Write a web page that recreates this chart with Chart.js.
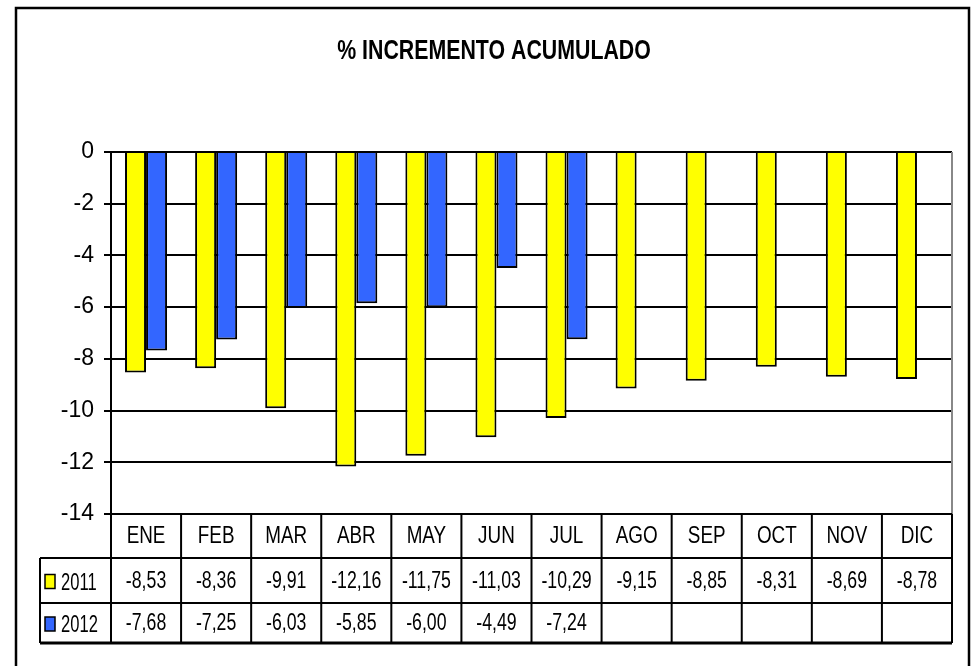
<!DOCTYPE html>
<html>
<head>
<meta charset="utf-8">
<script src="https://cdn.jsdelivr.net/npm/chart.js@4.4.1/dist/chart.umd.min.js"></script>
<style>
  html, body { margin: 0; padding: 0; background: #fff; }
</style>
</head>
<body>
<canvas id="chart" width="975" height="666"></canvas>
<script>
const months = ["ENE", "FEB", "MAR", "ABR", "MAY", "JUN", "JUL", "AGO", "SEP", "OCT", "NOV", "DIC"];
const seriesNames = ["2011", "2012"];
const values2011 = [-8.53, -8.36, -9.91, -12.16, -11.75, -11.03, -10.29, -9.15, -8.85, -8.31, -8.69, -8.78];
const values2012 = [-7.68, -7.25, -6.03, -5.85, -6.00, -4.49, -7.24, null, null, null, null, null];
const titleText = "% INCREMENTO ACUMULADO";

const colors = ["#FFFF00", "#3366FF"];
const allValues = [values2011, values2012];

function narrowText(ctx, text, x, y, sx) {
  ctx.save();
  ctx.translate(x, y);
  ctx.scale(sx, 1);
  ctx.fillText(text, 0, 0);
  ctx.restore();
}

function fmt(v) {
  if (v === null) return "";
  return v.toFixed(2).replace(".", ",");
}

// frame, title and the data table under the plot
const tablePlugin = {
  id: "tablePlugin",
  beforeDraw(chart) {
    const ctx = chart.ctx;
    ctx.save();
    ctx.fillStyle = "#fff";
    ctx.fillRect(0, 0, chart.width, chart.height);
    ctx.strokeStyle = "#000";
    ctx.lineWidth = 2.5;
    ctx.strokeRect(16, 8, 953, 700);
    ctx.restore();
  },
  afterDraw(chart) {
    const ctx = chart.ctx;
    const area = chart.chartArea;
    const colW = (area.right - area.left) / months.length;
    const rows = [area.bottom, area.bottom + 44, area.bottom + 89, area.bottom + 129];
    const legendLeft = 40;

    ctx.save();
    // title
    ctx.fillStyle = "#000";
    ctx.font = "bold 27px 'Liberation Sans', Arial, sans-serif";
    ctx.textAlign = "center";
    ctx.textBaseline = "middle";
    narrowText(ctx, titleText, 494, 52, 0.79);

    // right border of plot area
    ctx.strokeStyle = "#888";
    ctx.lineWidth = 2;
    ctx.beginPath();
    ctx.moveTo(area.right, area.top);
    ctx.lineTo(area.right, area.bottom);
    ctx.stroke();

    // table grid
    ctx.strokeStyle = "#000";
    ctx.lineWidth = 2;
    ctx.beginPath();
    ctx.moveTo(area.left, rows[0]);
    ctx.lineTo(area.right, rows[0]);
    for (let r = 1; r < rows.length; r++) {
      ctx.moveTo(legendLeft, rows[r]);
      ctx.lineTo(area.right, rows[r]);
    }
    for (let i = 0; i <= months.length; i++) {
      const x = area.left + i * colW;
      ctx.moveTo(x, rows[0]);
      ctx.lineTo(x, rows[3]);
    }
    ctx.moveTo(legendLeft, rows[1]);
    ctx.lineTo(legendLeft, rows[3]);
    ctx.stroke();

    ctx.lineWidth = 3;
    ctx.beginPath();
    ctx.moveTo(legendLeft, rows[3]);
    ctx.lineTo(area.right, rows[3]);
    ctx.stroke();

    // header and values
    ctx.fillStyle = "#000";
    ctx.font = "23px 'Liberation Sans', Arial, sans-serif";
    ctx.textAlign = "center";
    ctx.textBaseline = "middle";
    months.forEach((m, i) => {
      const cx = area.left + (i + 0.5) * colW;
      narrowText(ctx, m, cx, (rows[0] + rows[1]) / 2 + 1, 0.82);
      allValues.forEach((vals, s) => {
        narrowText(ctx, fmt(vals[i]), cx, (rows[s + 1] + rows[s + 2]) / 2 + 1, 0.77);
      });
    });

    // legend cells
    seriesNames.forEach((name, s) => {
      const cy = (rows[s + 1] + rows[s + 2]) / 2;
      ctx.fillStyle = colors[s];
      ctx.fillRect(45, cy - 6, 10, 14);
      ctx.strokeStyle = "#000";
      ctx.lineWidth = 1.5;
      ctx.strokeRect(45, cy - 6, 10, 14);
      ctx.fillStyle = "#000";
      ctx.textAlign = "left";
      narrowText(ctx, name, 61, cy + 3, 0.72);
    });
    ctx.restore();
  }
};

new Chart(document.getElementById("chart"), {
  type: "bar",
  data: {
    labels: months,
    datasets: seriesNames.map((name, s) => ({
      label: name,
      data: allValues[s],
      backgroundColor: colors[s],
      borderColor: "#000",
      borderWidth: 2,
      categoryPercentage: 0.6,
      barPercentage: 1.0,
    })),
  },
  options: {
    responsive: false,
    animation: false,
    layout: { padding: { left: 0, right: 23, top: 152, bottom: 152 } },
    plugins: {
      legend: { display: false },
      title: { display: false },
      tooltip: { enabled: false },
    },
    scales: {
      x: { display: false },
      y: {
        min: -14,
        max: 0,
        ticks: {
          stepSize: 2,
          color: "#000",
          padding: 10,
          font: { family: "'Liberation Sans', Arial, sans-serif", size: 23 },
        },
        grid: { color: "#000", lineWidth: 2, tickLength: 7 },
        border: { display: true, color: "#000", width: 2 },
        afterFit(scale) {
          scale.width = 111;
        },
      },
    },
  },
  plugins: [tablePlugin],
});
</script>
</body>
</html>
